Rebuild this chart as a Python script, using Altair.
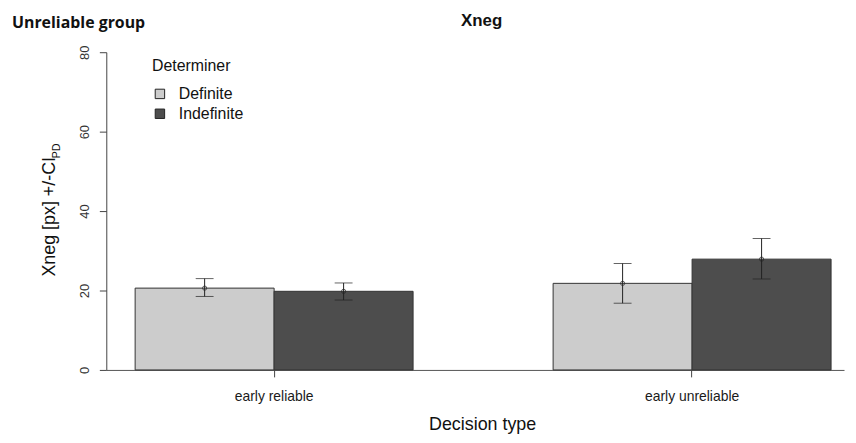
import altair as alt
import pandas as pd

decision = ["early reliable", "early reliable", "early unreliable", "early unreliable"]
determiner = ["Definite", "Indefinite", "Definite", "Indefinite"]
mean_px = [20.6, 19.8, 21.8, 27.9]
ci_low = [18.5, 17.6, 16.8, 22.9]
ci_high = [23.0, 21.9, 26.8, 33.1]

df = pd.DataFrame({"decision": decision, "determiner": determiner,
                   "mean": mean_px, "lo": ci_low, "hi": ci_high})

W, H = 743, 320
FONT = "Liberation Sans"

xenc = alt.X("decision:N", title=None,
             scale=alt.Scale(paddingInner=0.335, paddingOuter=0.05, align=0.69),
             axis=alt.Axis(labelAngle=0, labelFontSize=14, labelFont=FONT, labelColor="#1a1a1a",
                           tickSize=7, tickColor="#444", domainColor="#555", labelPadding=13,
                           ticks=True, domain=True))
xoff = alt.XOffset("determiner:N", scale=alt.Scale(paddingInner=0, paddingOuter=0),
                   sort=["Definite", "Indefinite"])
yscale = alt.Scale(domain=[0, 80], nice=False)

base = alt.Chart(df)

bars = base.mark_bar(stroke="#333", strokeWidth=1).encode(
    x=xenc, xOffset=xoff,
    y=alt.Y("mean:Q", scale=yscale, title=None,
            axis=alt.Axis(values=[0, 20, 40, 60, 80], labelAngle=270, labelAlign="center",
                          labelBaseline="alphabetic", labelPadding=11, tickSize=7,
                          tickColor="#444", domainColor="#444", labelFontSize=13,
                          labelFont=FONT, labelColor="#333", grid=False)),
    color=alt.Color("determiner:N",
                    scale=alt.Scale(domain=["Definite", "Indefinite"], range=["#cccccc", "#4d4d4d"]),
                    legend=alt.Legend(title="Determiner", orient="none", legendX=46, legendY=6,
                                      titleFontSize=16, titleFont=FONT, titleFontWeight="normal",
                                      labelFontSize=16, labelFont=FONT, symbolType="square",
                                      symbolSize=90, symbolStrokeColor="#222", symbolStrokeWidth=1,
                                      symbolOpacity=1, labelOffset=11, titlePadding=12,
                                      rowPadding=4, padding=0, labelColor="#111", titleColor="#111")),
)

rules = base.mark_rule(color="#222", strokeWidth=1).encode(
    x=xenc, xOffset=xoff, y=alt.Y("lo:Q", scale=yscale), y2="hi:Q")
cap_lo = base.mark_tick(color="#222", size=18, thickness=1, orient="horizontal").encode(
    x=xenc, xOffset=xoff, y=alt.Y("lo:Q", scale=yscale))
cap_hi = base.mark_tick(color="#222", size=18, thickness=1, orient="horizontal").encode(
    x=xenc, xOffset=xoff, y=alt.Y("hi:Q", scale=yscale))
pts = base.mark_point(shape="circle", filled=False, color="#222", size=18, strokeWidth=1).encode(
    x=xenc, xOffset=xoff, y=alt.Y("mean:Q", scale=yscale))

one = alt.Data(values=[{}])

def label(text, x, y, size, weight="normal", font=FONT, angle=0, align="left", baseline="alphabetic"):
    return alt.Chart(one).mark_text(text=text, fontSize=size, fontWeight=weight, font=font,
                                    angle=angle, align=align, baseline=baseline, color="#111").encode(
        x=alt.value(x), y=alt.value(y))

texts = [
    label("Unreliable group", -95, -24, 16, weight="bold", font="Open Sans"),
    label("Xneg", 378, -26, 17, weight="bold", align="center"),
    label("Decision type", 379, 380, 18, align="center"),
    label("Xneg [px] +/-CI", -52, 226, 18, angle=270, align="left"),
    label("PD", -47, 107, 11, angle=270, align="left"),
]

chart = alt.layer(bars, rules, cap_lo, cap_hi, pts, *texts).properties(
    width=W, height=H,
    autosize=alt.AutoSizeParams(type="none"),
    padding={"left": 99, "top": 43, "right": 4, "bottom": 64},
).configure_view(stroke=None)

chart.save("out.html", embed_options={"renderer": "svg", "actions": False})
